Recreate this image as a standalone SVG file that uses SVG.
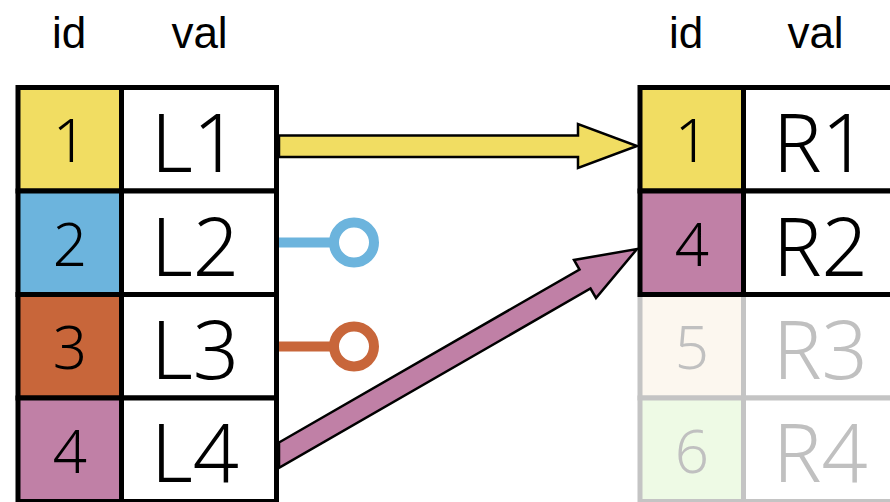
<svg xmlns="http://www.w3.org/2000/svg" width="890" height="502" viewBox="0 0 890 502">
<style>
.hdr{font-family:"Liberation Sans",Arial,sans-serif;font-size:44px;fill:#000;text-anchor:middle}
.idt{font-family:"Noto Sans","DejaVu Sans",sans-serif;font-size:60px;font-weight:300;text-anchor:middle}
.vt{font-family:"Noto Sans","DejaVu Sans",sans-serif;font-size:81px;font-weight:300}
.blk{stroke:#000;stroke-width:5}
.gry{stroke:#c4c4c4;stroke-width:5}
.arrow{stroke:#000;stroke-width:2.5;stroke-linejoin:miter}
</style>
<rect width="890" height="502" fill="#fff"/>
<g id="headers">
<text class="hdr" x="69" y="48">id</text>
<text class="hdr" x="199.5" y="48">val</text>
<text class="hdr" x="686" y="48">id</text>
<text class="hdr" x="815.5" y="48">val</text>
</g>
<g id="left-row1">
<rect class="blk" x="18" y="87.5" width="103.5" height="103.5" fill="#f1dd62"/>
<rect class="blk" x="121.5" y="87.5" width="155" height="103.5" fill="#fff"/>
<text class="idt" x="70" y="162">1</text>
<text class="vt" x="151" y="172">L1</text>
</g>
<g id="left-row2">
<rect class="blk" x="18" y="191" width="103.5" height="103.5" fill="#6cb4dd"/>
<rect class="blk" x="121.5" y="191" width="155" height="103.5" fill="#fff"/>
<text class="idt" x="70" y="265.5">2</text>
<text class="vt" x="151" y="275.5">L2</text>
</g>
<g id="left-row3">
<rect class="blk" x="18" y="294.5" width="103.5" height="103.5" fill="#c8663a"/>
<rect class="blk" x="121.5" y="294.5" width="155" height="103.5" fill="#fff"/>
<text class="idt" x="70" y="369">3</text>
<text class="vt" x="151" y="379">L3</text>
</g>
<g id="left-row4">
<rect class="blk" x="18" y="398" width="103.5" height="103.5" fill="#c080a6"/>
<rect class="blk" x="121.5" y="398" width="155" height="103.5" fill="#fff"/>
<text class="idt" x="70" y="472.5">4</text>
<text class="vt" x="151" y="482">L4</text>
</g>
<g id="right-row3">
<rect class="gry" x="640" y="294.5" width="103.5" height="103.5" fill="#fcf7ef"/>
<rect class="gry" x="743.5" y="294.5" width="155" height="103.5" fill="#fff"/>
<text class="idt" x="692" y="369" fill="#c0c0c0">5</text>
<text class="vt" x="773" y="379" fill="#c0c0c0">R3</text>
</g>
<g id="right-row4">
<rect class="gry" x="640" y="398" width="103.5" height="103.5" fill="#eefae5"/>
<rect class="gry" x="743.5" y="398" width="155" height="103.5" fill="#fff"/>
<text class="idt" x="692" y="472.5" fill="#c0c0c0">6</text>
<text class="vt" x="773" y="482" fill="#c0c0c0">R4</text>
</g>
<g id="right-row1">
<rect class="blk" x="640" y="87.5" width="103.5" height="103.5" fill="#f1dd62"/>
<rect class="blk" x="743.5" y="87.5" width="155" height="103.5" fill="#fff"/>
<text class="idt" x="692" y="162">1</text>
<text class="vt" x="773" y="172">R1</text>
</g>
<g id="right-row2">
<rect class="blk" x="640" y="191" width="103.5" height="103.5" fill="#c080a6"/>
<rect class="blk" x="743.5" y="191" width="155" height="103.5" fill="#fff"/>
<text class="idt" x="692" y="265.5">4</text>
<text class="vt" x="773" y="275.5">R2</text>
</g>
<g id="connectors">
<polygon class="arrow" fill="#f1dd62" points="279,135.5 578,135.5 578,124 637,146 578,168 578,157 279,157"/>
<line x1="279" y1="242.5" x2="335" y2="242.5" stroke="#6cb4dd" stroke-width="10"/>
<circle cx="354" cy="242.5" r="20" fill="#fff" stroke="#6cb4dd" stroke-width="10"/>
<line x1="279" y1="346.5" x2="335" y2="346.5" stroke="#c8663a" stroke-width="10"/>
<circle cx="354" cy="346.5" r="20" fill="#fff" stroke="#c8663a" stroke-width="10"/>
<polygon class="arrow" fill="#c080a6" points="279,442.5 579.5,269.5 574,260 637,249 596,298 590.5,288.5 279,467.8"/>
</g>
</svg>
